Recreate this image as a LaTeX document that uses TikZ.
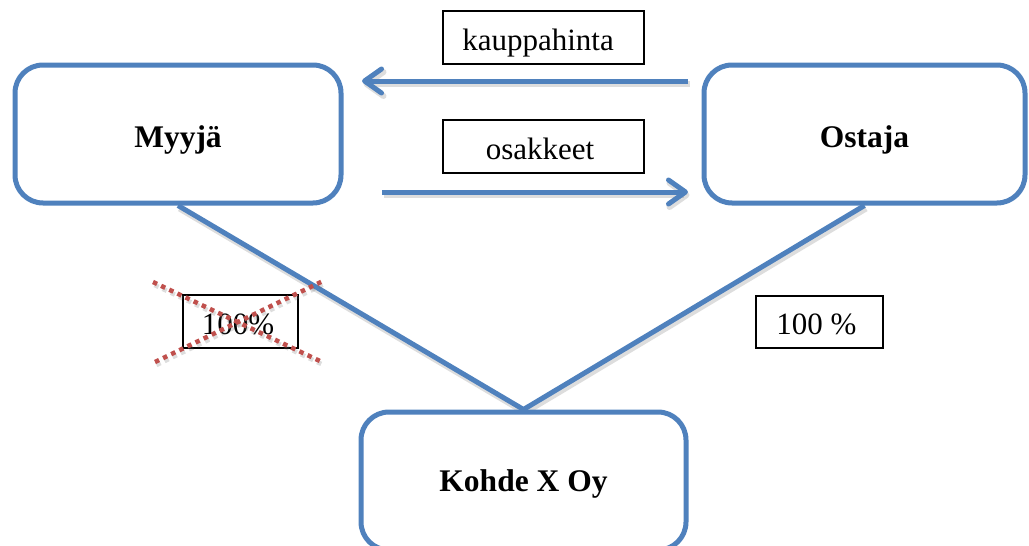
\documentclass[tikz,border=0pt]{standalone}
\usepackage{fontspec}
\setmainfont{Liberation Serif}
\usetikzlibrary{arrows.meta,backgrounds}
\definecolor{accentblue}{HTML}{4F81BD}
\definecolor{accentred}{HTML}{C0504D}
\tikzset{
  party/.style={draw=accentblue, line width=5pt, rounded corners=28pt, fill=white,
    font=\fontsize{31.5}{38}\selectfont\bfseries, text height=26pt, text depth=0pt, inner sep=0pt},
  tag/.style={draw=black, line width=2pt, fill=white,
    font=\fontsize{31}{37}\selectfont, text height=26pt, text depth=0pt, inner sep=0pt},
  link/.style={accentblue, line width=5pt},
  flow/.style={link, -{Straight Barb[length=17pt,width=24pt,line cap=round,line join=round]}},
  strike/.style={accentred, line width=4.5pt, dash pattern=on 4.5pt off 4.5pt},
  drop/.style={transform canvas={shift={(1.5pt,-3pt)}}, draw=black!60, opacity=0.22, line width=6pt},
}
\begin{document}
\begin{tikzpicture}[x=1pt, y=-1pt]
  \useasboundingbox (0,0) rectangle (1029,546);

  % parties
  \node[party, minimum width=326pt, minimum height=138pt] (seller) at (178,134) {Myyjä};
  \node[party, minimum width=321pt, minimum height=138pt] (buyer) at (864.5,134) {Ostaja};
  \node[party, minimum width=325pt, minimum height=138pt, text height=21.5pt] (target) at (523.5,481) {Kohde X Oy};

  % labels
  \node[tag, minimum width=201pt, minimum height=53pt] (price) at (543.5,37.5) {\hspace*{-11pt}kauppahinta};
  \node[tag, minimum width=201pt, minimum height=53pt] (shares) at (543.5,146.5) {\hspace*{-7pt}osakkeet};
  \node[tag, minimum width=115pt, minimum height=53pt] (oldstake) at (240,321) {\hspace*{-4pt}100\%};
  \node[tag, minimum width=127pt, minimum height=52pt] (newstake) at (819,321.5) {\hspace*{-5pt}100 \%};

  % ownership lines
  \begin{pgfonlayer}{background}
    \draw[drop, line join=miter] (seller.south) -- (target.north) -- (buyer.south);
    \draw[link, line join=miter] (seller.south) -- (target.north) -- (buyer.south);
  \end{pgfonlayer}

  % payment and shares
  \coordinate (priceFrom) at (688,81);
  \coordinate (priceTo) at (362,81);
  \coordinate (sharesFrom) at (382,192);
  \coordinate (sharesTo) at (688,192);
  \draw[drop, -{Straight Barb[length=17pt,width=24pt,line cap=round,line join=round]}] (priceFrom) -- (priceTo);
  \draw[drop, -{Straight Barb[length=17pt,width=24pt,line cap=round,line join=round]}] (sharesFrom) -- (sharesTo);
  \draw[flow] (priceFrom) -- (priceTo);
  \draw[flow] (sharesFrom) -- (sharesTo);

  % former holding crossed out
  \coordinate (crossA) at (153,282);
  \coordinate (crossB) at (322,362);
  \coordinate (crossC) at (155,362);
  \coordinate (crossD) at (323,281);
  \draw[drop, line width=4.5pt, dash pattern=on 4.5pt off 4.5pt] (crossA) -- (crossB);
  \draw[drop, line width=4.5pt, dash pattern=on 4.5pt off 4.5pt] (crossC) -- (crossD);
  \draw[strike] (crossA) -- (crossB);
  \draw[strike] (crossC) -- (crossD);
\end{tikzpicture}
\end{document}
